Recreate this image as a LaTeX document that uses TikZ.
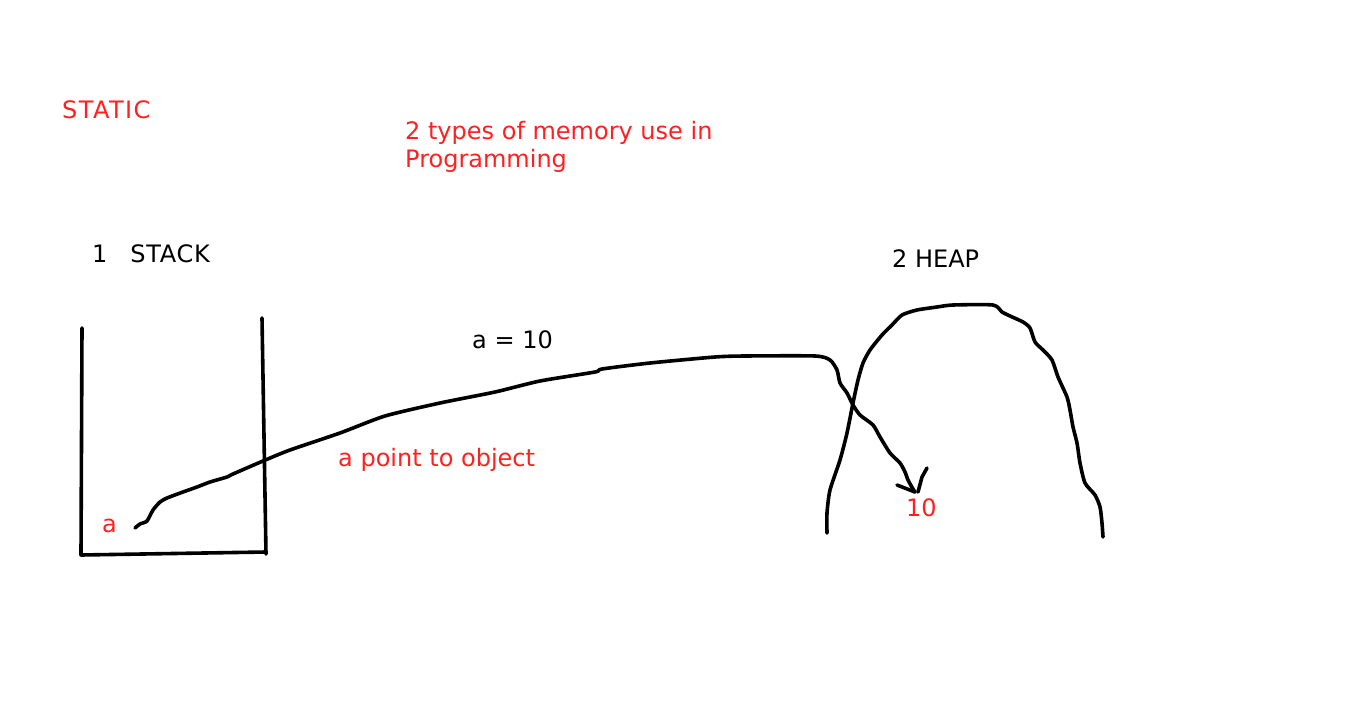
\documentclass[tikz,border=0pt]{standalone}
\usepackage{fontspec}
\setmainfont{DejaVu Sans}
\definecolor{inkred}{RGB}{255,32,32}
\definecolor{ink}{RGB}{0,0,0}
\tikzset{
  lbl/.style={anchor=base west, inner sep=0pt, font=\fontsize{24pt}{29pt}\selectfont},
  redlbl/.style={lbl, text=inkred},
  blklbl/.style={lbl, text=ink},
  stroke/.style={draw=ink, line width=3.6pt, line cap=round, line join=round},
}
\begin{document}
\begin{tikzpicture}[x=1pt,y=-1pt]
\useasboundingbox[fill=white] (0,0) rectangle (1366,715);
% texts
\node[redlbl] (static) at (62,118) {\addfontfeatures{LetterSpace=6}STATIC};
\node[redlbl] (title1) at (405,139) {2 types of memory use in};
\node[redlbl] (title2) at (405,167) {Programming};
\node[blklbl] (stack) at (92,262) {1\ \ \ {\addfontfeatures{LetterSpace=3}STACK}};
\node[blklbl] (heap) at (892,267) {2 HEAP};
\node[blklbl] (aeq) at (472,348) {a = 10};
\node[redlbl] (point) at (338,466) {a point to object};
\node[redlbl] (avar) at (102,532) {a};
\node[redlbl] (ten) at (906,516) {10};
% stack box
\coordinate (sTL) at (82,328);
\coordinate (sBL) at (81,555);
\coordinate (sBR) at (266,552);
\coordinate (sTR) at (262,318);
\draw[stroke] (sTL) -- (sBL) -- (sBR);
\draw[stroke] (sTR) -- (266,554);
% heap
\draw[stroke] plot[smooth, tension=0.4] coordinates {
 (827,533) (827,513) (830,490) (840,460) (847,433) (853,403) (858,380)
 (863,363) (870,350) (882,335) (892,325) (902,315) (917,310) (937,307)
 (953,305) (993,305) (1002,312) (1010,316) (1023,322) (1030,328)
 (1035,342) (1043,350) (1052,360) (1058,377) (1067,397) (1070,410)
 (1073,427) (1077,443) (1080,463) (1085,483) (1095,495) (1100,507)
 (1102,523) (1103,537)};
% pointer curve
\coordinate (pStart) at (135,528);
\coordinate (pEnd) at (915,492);
\draw[stroke] plot[smooth, tension=0.4] coordinates {
 (pStart) (140,524) (147,521) (153,510) (160,502) (167,498) (183,492)
 (197,487) (210,482) (227,477) (233,474) (263,461) (290,450) (340,433)
 (385,416) (440,403) (495,392) (540,381) (595,372) (602,369) (650,363)
 (715,357) (745,356) (815,356) (830,360) (837,370) (840,383) (847,393)
 (853,405) (860,415) (873,425) (880,437) (890,453) (900,463) (905,472)
 (908,480) (913,489) (pEnd)};
% arrow head strokes
\draw[stroke] (897,485) -- (pEnd);
\draw[stroke] (927,468) -- (922,477) -- (918,492);
\end{tikzpicture}
\end{document}
